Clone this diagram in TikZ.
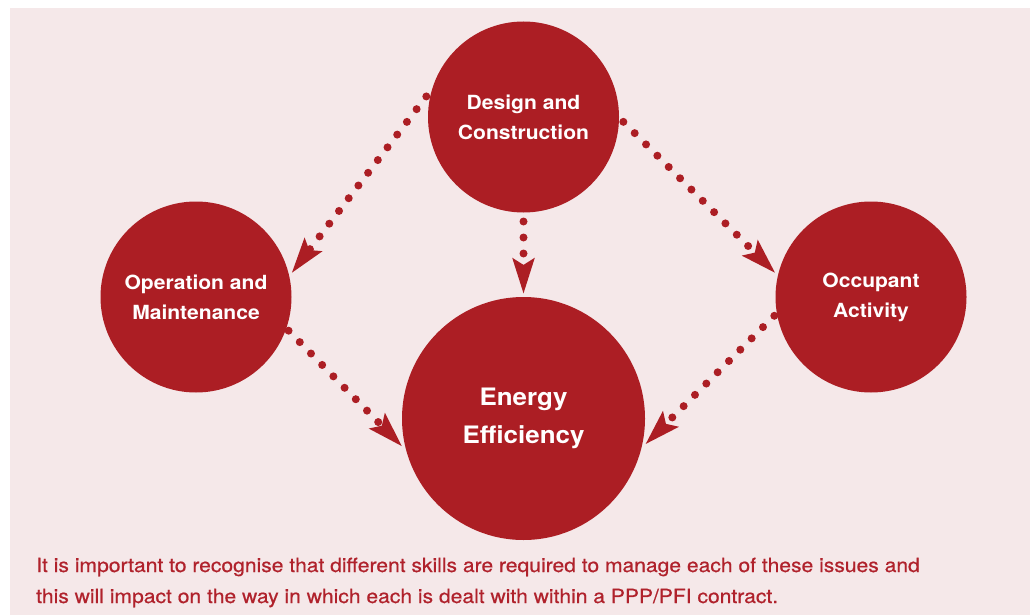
\documentclass[tikz,border=0pt]{standalone}
\usepackage{fontspec}
\setmainfont{TeX Gyre Heros}[FakeStretch=1.08]
\newfontfamily\bodyfont{TeX Gyre Heros}[FakeStretch=1.08, FakeBold=0.6]
\usetikzlibrary{arrows.meta}
\definecolor{bgpink}{HTML}{F5E8E9}
\definecolor{circred}{HTML}{AC1E24}
\definecolor{txtred}{HTML}{B0222C}
\tikzset{
  bubble/.style={circle, fill=circred, text=white, align=center, inner sep=0pt, outer sep=3pt,
    font=\bfseries\fontsize{19.5}{30}\selectfont},
  bigbubble/.style={bubble, font=\bfseries\fontsize{24}{38}\selectfont},
  dotlink/.style={draw=circred, line width=8pt, line cap=round, dash pattern=on 0pt off 16pt,
    -{Stealth[length=35pt, width=21pt, inset=6pt, fill=circred]}},
  bodytext/.style={text=txtred, anchor=base west, inner sep=0pt, font=\bodyfont\fontsize{19.5}{31}\selectfont}
}
\begin{document}
\begin{tikzpicture}[x=1pt, y=-1pt]
\useasboundingbox (0,0) rectangle (1030,615);
\fill[bgpink] (10,8) rectangle (1030,615);
\node[bubble, minimum size=191pt] (dc) at (523.5,117) {Design and\\Construction};
\node[bubble, minimum size=191pt] (om) at (196,297) {Operation and\\Maintenance};
\node[bubble, minimum size=191pt] (oa) at (871,297) {Occupant\\Activity};
\node[bigbubble, minimum size=243pt] (ee) at (523.5,418.5) {Energy\\Efficiency};
\draw[dotlink, shorten <=2pt] (dc.167) -- (om.14);
\draw[dotlink, shorten <=2pt] (dc.-2) -- (oa.166);
\draw[dotlink, shorten <=6pt] (dc.-90) -- (ee.90);
\draw[dotlink] (om.-20) -- (ee.-167);
\draw[dotlink] (oa.-169.5) -- (ee.-12.6);
\node[bodytext] (t1) at (36,572) {It is important to recognise that different skills are required to manage each of these issues and};
\node[bodytext] (t2) at (36,603) {this will impact on the way in which each is dealt with within a PPP/PFI contract.};
\end{tikzpicture}
\end{document}
